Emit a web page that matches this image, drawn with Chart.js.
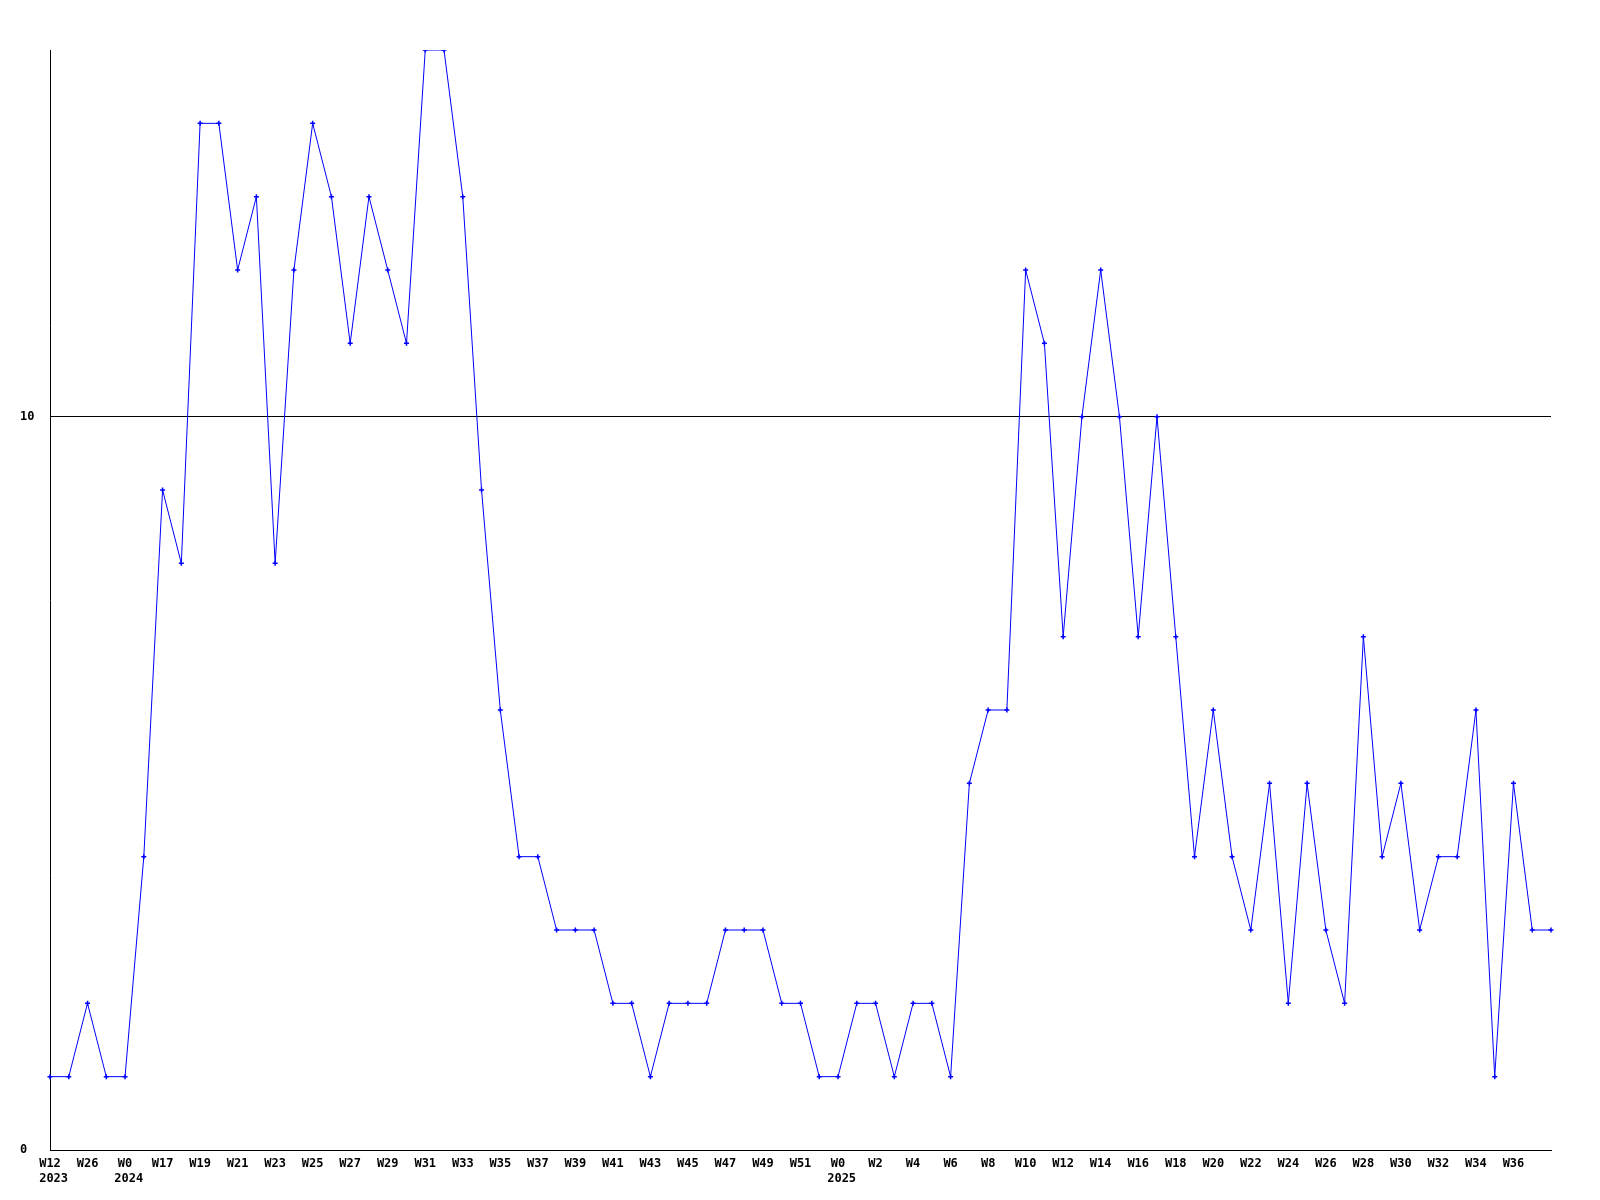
<!DOCTYPE html>
<html>
<head>
<meta charset="utf-8">
<script src="https://cdn.jsdelivr.net/npm/chart.js@4"></script>
<style>
  html, body { margin: 0; padding: 0; background: #fff; }
  canvas { display: block; }
</style>
</head>
<body>
<canvas id="weekChart" width="1600" height="1200"></canvas>
<script>
// week labels (every other one is shown on the axis)
const weekLabels = [
  "W12", "W25", "W26", "W52", "W0", "W16", "W17", "W18", "W19", "W20",
  "W21", "W22", "W23", "W24", "W25", "W26", "W27", "W28", "W29", "W30",
  "W31", "W32", "W33", "W34", "W35", "W36", "W37", "W38", "W39", "W40",
  "W41", "W42", "W43", "W44", "W45", "W46", "W47", "W48", "W49", "W50",
  "W51", "W52", "W0", "W1", "W2", "W3", "W4", "W5", "W6", "W7",
  "W8", "W9", "W10", "W11", "W12", "W13", "W14", "W15", "W16", "W17",
  "W18", "W19", "W20", "W21", "W22", "W23", "W24", "W25", "W26", "W27",
  "W28", "W29", "W30", "W31", "W32", "W33", "W34", "W35", "W36", "W37",
  "W38"
];
// year shown under the first week of each year
const yearLabels = { 0: "2023", 4: "2024", 42: "2025" };

const counts = [
  1, 1, 2, 1, 1, 4, 9, 8, 14, 14,
  12, 13, 8, 12, 14, 13, 11, 13, 12, 11,
  15, 15, 13, 9, 6, 4, 4, 3, 3, 3,
  2, 2, 1, 2, 2, 2, 3, 3, 3, 2,
  2, 1, 1, 2, 2, 1, 2, 2, 1, 5,
  6, 6, 12, 11, 7, 10, 12, 10, 7, 10,
  7, 4, 6, 4, 3, 5, 2, 5, 3, 2,
  7, 4, 5, 3, 4, 4, 6, 1, 5, 3,
  3
];

const yTicks = [0, 10];
const yMax = 15;

document.addEventListener("DOMContentLoaded", function () {
    // year line starts where the week text starts (monospace, so pad with spaces)
    const labels = weekLabels.map((w, i) => {
        if (!yearLabels[i]) return w;
        const pad = Math.max(0, 4 - Math.max(w.length, 3));
        return [w, " ".repeat(pad) + yearLabels[i]];
    });
    const tickFont = { family: "'DejaVu Sans Mono', monospace", size: 12, weight: "bold", lineHeight: "15px" };
    const lastShown = labels.length - 3;

    const ctx = document.getElementById("weekChart").getContext("2d");
    new Chart(ctx, {
        type: "line",
        data: {
            labels: labels,
            datasets: [{
                data: counts,
                borderColor: "#0000ff",
                backgroundColor: "#0000ff",
                borderWidth: 1,
                tension: 0,
                pointStyle: "cross",
                pointRadius: 2.5,
                pointBorderWidth: 1.5,
                pointHoverRadius: 2.5
            }]
        },
        options: {
            responsive: false,
            animation: false,
            events: [],
            layout: { padding: { top: 50, right: 49, left: 20, bottom: 0 } },
            plugins: {
                legend: { display: false },
                tooltip: { enabled: false }
            },
            scales: {
                x: {
                    offset: false,
                    grid: { display: false },
                    border: { display: true, color: "#000", width: 1 },
                    ticks: {
                        autoSkip: false,
                        maxRotation: 0,
                        minRotation: 0,
                        padding: -2,
                        color: "#000",
                        font: tickFont,
                        callback: function (value, index) {
                            return (index % 2 === 0 && index <= lastShown) ? labels[index] : "";
                        }
                    },
                    afterFit: function (scale) { scale.height = 50; }
                },
                y: {
                    min: 0,
                    max: yMax,
                    grid: { color: "#000", lineWidth: 1, drawTicks: false },
                    border: { display: true, color: "#000", width: 1 },
                    ticks: { padding: 17, crossAlign: "far", color: "#000", font: tickFont },
                    afterBuildTicks: function (scale) {
                        scale.ticks = yTicks.map(v => ({ value: v }));
                    },
                    afterFit: function (scale) { scale.width = 30; }
                }
            }
        }
    });
});
</script>
</body>
</html>
